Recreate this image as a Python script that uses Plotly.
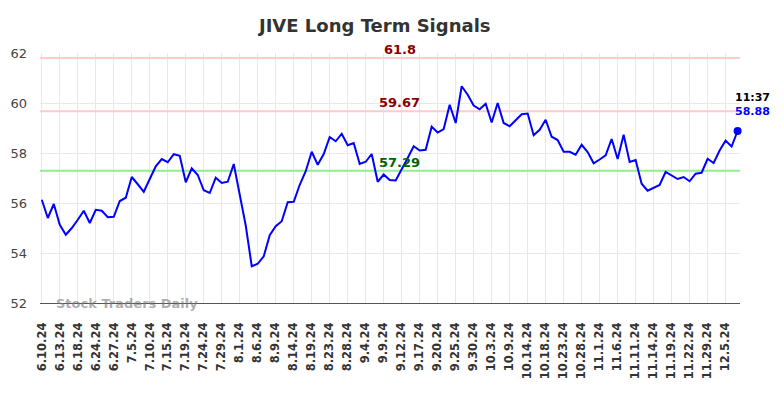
import plotly.graph_objects as go

title = "JIVE Long Term Signals"

tick_labels = ["6.10.24", "6.13.24", "6.18.24", "6.24.24", "6.27.24", "7.5.24", "7.10.24",
               "7.15.24", "7.19.24", "7.24.24", "7.29.24", "8.1.24", "8.6.24", "8.9.24",
               "8.14.24", "8.19.24", "8.23.24", "8.28.24", "9.4.24", "9.9.24", "9.12.24",
               "9.17.24", "9.20.24", "9.25.24", "9.30.24", "10.3.24", "10.9.24", "10.14.24",
               "10.18.24", "10.23.24", "10.28.24", "11.1.24", "11.6.24", "11.11.24",
               "11.14.24", "11.19.24", "11.22.24", "11.29.24", "12.5.24"]

prices = [56.13, 55.40, 55.96, 55.13, 54.73, 55.00, 55.33, 55.69, 55.20, 55.73,
          55.69, 55.43, 55.45, 56.08, 56.21, 57.04, 56.75, 56.45, 56.96, 57.47,
          57.76, 57.63, 57.95, 57.89, 56.83, 57.39, 57.12, 56.51, 56.40, 57.01,
          56.80, 56.85, 57.56, 56.27, 55.10, 53.47, 53.57, 53.87, 54.71, 55.07,
          55.27, 56.03, 56.05, 56.73, 57.27, 58.05, 57.53, 57.96, 58.64, 58.47,
          58.77, 58.31, 58.40, 57.56, 57.65, 57.96, 56.85, 57.14, 56.92, 56.90,
          57.33, 57.80, 58.27, 58.10, 58.13, 59.05, 58.82, 58.96, 59.93, 59.20,
          60.67, 60.33, 59.90, 59.75, 59.97, 59.22, 60.00, 59.20, 59.07, 59.29,
          59.55, 59.58, 58.71, 58.93, 59.33, 58.65, 58.52, 58.05, 58.05, 57.93,
          58.33, 58.04, 57.59, 57.74, 57.91, 58.56, 57.76, 58.73, 57.64, 57.72,
          56.77, 56.49, 56.60, 56.72, 57.24, 57.10, 56.96, 57.04, 56.87, 57.17,
          57.21, 57.77, 57.60, 58.10, 58.50, 58.26, 58.88]

levels = [61.8, 59.67, 57.29]
level_line_colors = ["#ffcccc", "#ffcccc", "#90ee90"]
level_text_colors = ["#8b0000", "#8b0000", "#006400"]
y_ticks = [52, 54, 56, 58, 60, 62]
last_time = "11:37"

x = list(range(len(prices)))
tick_pos = [i * 3 for i in range(len(tick_labels))]

fig = go.Figure()
for lv, lc in zip(levels, level_line_colors):
    fig.add_trace(go.Scatter(x=[x[0] - 1, x[-1] + 1], y=[lv, lv], mode="lines",
                             line=dict(color=lc, width=2), hoverinfo="skip",
                             showlegend=False))
fig.add_trace(go.Scatter(x=x, y=prices, mode="lines", line=dict(color="#0000ff", width=2),
                         showlegend=False))
fig.add_trace(go.Scatter(x=[x[-1]], y=[prices[-1]], mode="markers",
                         marker=dict(color="#0000ff", size=8), showlegend=False,
                         cliponaxis=False))

for lv, tc in zip(levels, level_text_colors):
    fig.add_annotation(x=59.7, y=lv, text=str(lv), showarrow=False, yanchor="bottom",
                       yshift=-1, font=dict(family="DejaVu Sans", size=13, color=tc,
                                            weight="bold"))

fig.add_annotation(x=x[-1], y=prices[-1], text=last_time, showarrow=False,
                   xanchor="center", yanchor="bottom", xshift=15, yshift=25,
                   font=dict(family="DejaVu Sans", size=11, color="#000000", weight="bold"))
fig.add_annotation(x=x[-1], y=prices[-1], text=f"{prices[-1]:.2f}", showarrow=False,
                   xanchor="center", yanchor="bottom", xshift=15, yshift=11,
                   font=dict(family="DejaVu Sans", size=11, color="#0000ff", weight="bold"))

fig.add_annotation(xref="paper", yref="paper", x=0.02, y=0.0, text="Stock Traders Daily",
                   showarrow=False, xanchor="left", yanchor="middle",
                   font=dict(family="DejaVu Sans", size=13, color="rgba(120,120,120,0.6)",
                             weight="bold"))

fig.update_layout(
    width=784, height=398,
    margin=dict(l=40, r=44, t=53, b=95, autoexpand=False),
    paper_bgcolor="white", plot_bgcolor="white",
    hovermode=False,
    title=dict(text=title, x=0.478, xanchor="center", y=0.935, yanchor="middle",
               font=dict(family="DejaVu Sans", size=18, color="#333333", weight="bold")),
    xaxis=dict(range=[-0.3, 116.4], tickmode="array", tickvals=tick_pos,
               ticktext=tick_labels, tickangle=-90, showgrid=True, gridcolor="#e8e8e8",
               gridwidth=1, zeroline=False, showline=True, linecolor="#555555",
               linewidth=1, ticks="", ticklen=0, ticklabelstandoff=14,
               tickfont=dict(family="DejaVu Sans", size=11.5, color="#333333", weight="bold")),
    yaxis=dict(range=[52, 62], tickmode="array", tickvals=y_ticks, showgrid=True,
               gridcolor="#e8e8e8", gridwidth=1, zeroline=False, showline=False,
               ticks="", ticklabelstandoff=12,
               tickfont=dict(family="DejaVu Sans", size=13, color="#444444")),
)

fig.write_html("out.html", config={"displayModeBar": False},
               post_script="document.body.style.margin='0px';")
